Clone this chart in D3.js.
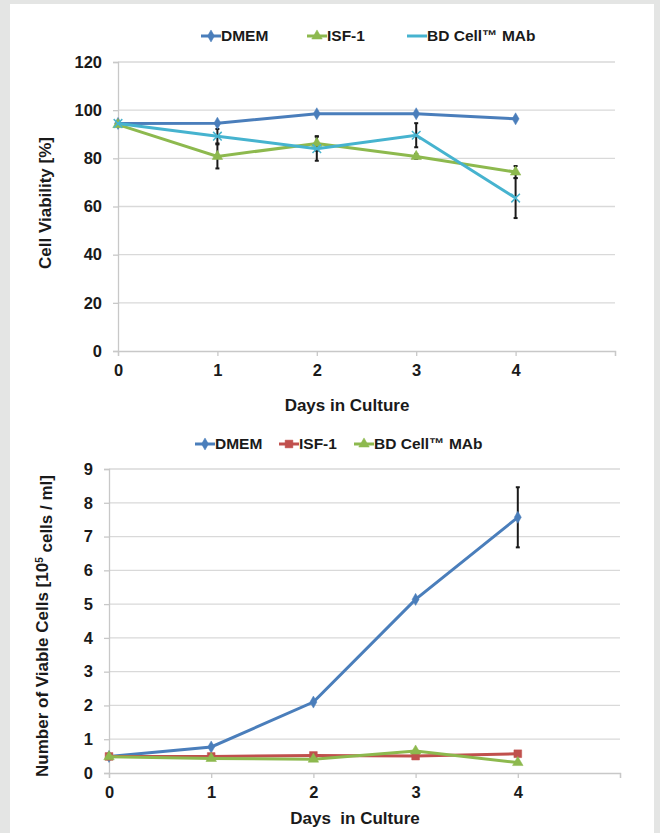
<!DOCTYPE html>
<html>
<head>
<meta charset="utf-8">
<script src="https://cdn.jsdelivr.net/npm/d3@7"></script>
<style>
  body { margin: 0; background: #e4e5e4; }
  svg { display: block; }
  text { font-family: "Liberation Sans", Arial, sans-serif; font-weight: bold; fill: #1a1a1a; }
</style>
</head>
<body>
<svg id="chart" width="660" height="833"></svg>
<script>
// datos de las dos graficas
const days = [0, 1, 2, 3, 4];

// grafica 1: viabilidad
const viaDMEM = [94.5, 94.6, 98.5, 98.5, 96.4];
const viaISF = [94, 80.8, 86.2, 80.8, 74.3];
const viaBD = [94.5, 89.2, 84, 89.6, 63.5];
const viaISFerr = [0, 5, 3, 1, 2.5];
const viaBDerr = [0, 3, 5, 5, 8.3];
const viaTicks = [0, 20, 40, 60, 80, 100, 120];

// grafica 2: celulas viables
const cellDMEM = [0.49, 0.77, 2.1, 5.14, 7.57];
const cellISF = [0.49, 0.49, 0.52, 0.5, 0.57];
const cellBD = [0.48, 0.43, 0.41, 0.65, 0.31];
const cellDMEMerr = [0, 0, 0, 0, 0.89];
const cellTicks = [0, 1, 2, 3, 4, 5, 6, 7, 8, 9];

const svg = d3.select("#chart");

// panel blanco
svg.append("rect").attr("x", 10).attr("y", 4).attr("width", 644).attr("height", 829).attr("fill", "#fff");

const symDiamond = d3.symbol().type(d3.symbolDiamond).size(42);
const symTriangle = d3.symbol().type(d3.symbolTriangle).size(48);
const symSquare = d3.symbol().type(d3.symbolSquare).size(60);
const symX = d3.symbol().type(d3.symbolX).size(50);

const drawChart = (opt) => {
    const g = svg.append("g");
    const x = d3.scaleLinear().domain([0, 5]).range([opt.left, opt.right]);
    const y = d3.scaleLinear().domain([0, opt.max]).range([opt.bottom, opt.top]);

    // lineas de la rejilla
    g.selectAll(".grid").data(opt.ticks.filter(t => t > 0)).join("line")
        .attr("x1", opt.left).attr("x2", opt.right)
        .attr("y1", d => y(d)).attr("y2", d => y(d))
        .attr("stroke", "#d9d9d9").attr("stroke-width", 1.3);

    let axisY = d3.axisLeft(y).tickValues(opt.ticks).tickSize(5).tickPadding(11).tickFormat(d3.format("d"));
    let axisX = d3.axisBottom(x).tickValues([0, 1, 2, 3, 4, 5]).tickSize(5).tickPadding(8)
        .tickFormat(d => d < 5 ? d : "");

    const ay = g.append("g").attr("transform", `translate(${opt.left},0)`).call(axisY);
    const ax = g.append("g").attr("transform", `translate(0,${opt.bottom})`).call(axisX);
    [ay, ax].forEach(a => {
        a.select(".domain").attr("stroke", "#c8c8c8").attr("stroke-width", 1.3);
        a.selectAll(".tick line").attr("stroke", "#c8c8c8").attr("stroke-width", 1.3);
        a.selectAll("text").style("font-size", "16.5px").attr("fill", "#1a1a1a");
    });

    // barras de error
    opt.series.forEach(s => {
        if (!s.err) return;
        const eb = g.append("g").attr("stroke", "#1a1a1a").attr("stroke-width", 2);
        days.forEach((d, i) => {
            if (!s.err[i]) return;
            const y1 = y(s.values[i] - s.err[i]), y2 = y(s.values[i] + s.err[i]);
            eb.append("line").attr("x1", x(d)).attr("x2", x(d)).attr("y1", y1).attr("y2", y2);
            eb.append("line").attr("x1", x(d) - 2).attr("x2", x(d) + 2).attr("y1", y1).attr("y2", y1);
            eb.append("line").attr("x1", x(d) - 2).attr("x2", x(d) + 2).attr("y1", y2).attr("y2", y2);
        });
    });

    // lineas de cada serie
    const line = d3.line().x((d, i) => x(days[i])).y(d => y(d));
    opt.series.forEach(s => {
        g.append("path").datum(s.values).attr("d", line)
            .attr("fill", "none").attr("stroke", s.color).attr("stroke-width", 3);
        g.selectAll(null).data(s.values).join("path")
            .attr("transform", (d, i) => `translate(${x(days[i])},${y(d)})`)
            .attr("d", s.sym)
            .attr("fill", s.color).attr("stroke", s.color)
            .attr("stroke-width", s.sym === symX ? 1.5 : 0.5);
    });

    // leyenda
    const lg = g.append("g");
    opt.series.forEach((s, i) => {
        const lx = opt.legendX[i];
        lg.append("line").attr("x1", lx).attr("x2", lx + 20).attr("y1", opt.legendY).attr("y2", opt.legendY)
            .attr("stroke", s.color).attr("stroke-width", 3);
        lg.append("path").attr("transform", `translate(${lx + 10},${opt.legendY})`)
            .attr("d", s.sym)
            .attr("fill", s.color).attr("stroke", s.color).attr("stroke-width", 0.5)
            .attr("opacity", s.sym === symX ? 0 : 1);
        lg.append("text").attr("x", lx + 20).attr("y", opt.legendY).attr("dy", "0.35em")
            .style("font-size", "15.5px").text(s.name);
    });

    // titulos
    g.append("text").attr("x", opt.xTitleX).attr("y", opt.xTitleY).attr("text-anchor", "middle")
        .style("font-size", "17px").attr("xml:space", "preserve").text(opt.xTitle);
    const yt = g.append("text").attr("transform", `translate(${opt.yTitleX},${opt.yTitleY}) rotate(-90)`)
        .attr("text-anchor", "middle").style("font-size", "17px");
    opt.yTitle(yt);
};

drawChart({
    left: 118, right: 615, top: 62, bottom: 351, max: 120, ticks: viaTicks,
    series: [
        { name: "DMEM", values: viaDMEM, color: "#4a7ebb", sym: symDiamond },
        { name: "ISF-1", values: viaISF, color: "#8db94e", sym: symTriangle, err: viaISFerr },
        { name: "BD Cell\u2122 MAb", values: viaBD, color: "#46b3cf", sym: symX, err: viaBDerr }
    ],
    legendX: [201, 307, 407], legendY: 36,
    xTitle: "Days in Culture", xTitleX: 347, xTitleY: 411,
    yTitleX: 51, yTitleY: 203,
    yTitle: t => t.text("Cell Viability [%]")
});

drawChart({
    left: 109, right: 620, top: 469, bottom: 773, max: 9, ticks: cellTicks,
    series: [
        { name: "DMEM", values: cellDMEM, color: "#4a7ebb", sym: symDiamond, err: cellDMEMerr },
        { name: "ISF-1", values: cellISF, color: "#c0504d", sym: symSquare },
        { name: "BD Cell\u2122 MAb", values: cellBD, color: "#8db94e", sym: symTriangle }
    ],
    legendX: [195, 279, 354], legendY: 444,
    xTitle: "Days  in Culture", xTitleX: 355, xTitleY: 824,
    yTitleX: 48, yTitleY: 626,
    yTitle: t => {
        t.append("tspan").text("Number of Viable Cells [10");
        t.append("tspan").attr("dy", "-0.5em").style("font-size", "10px").text("5");
        t.append("tspan").attr("dy", "0.5em").text(" cells / ml]");
    }
});
</script>
</body>
</html>
